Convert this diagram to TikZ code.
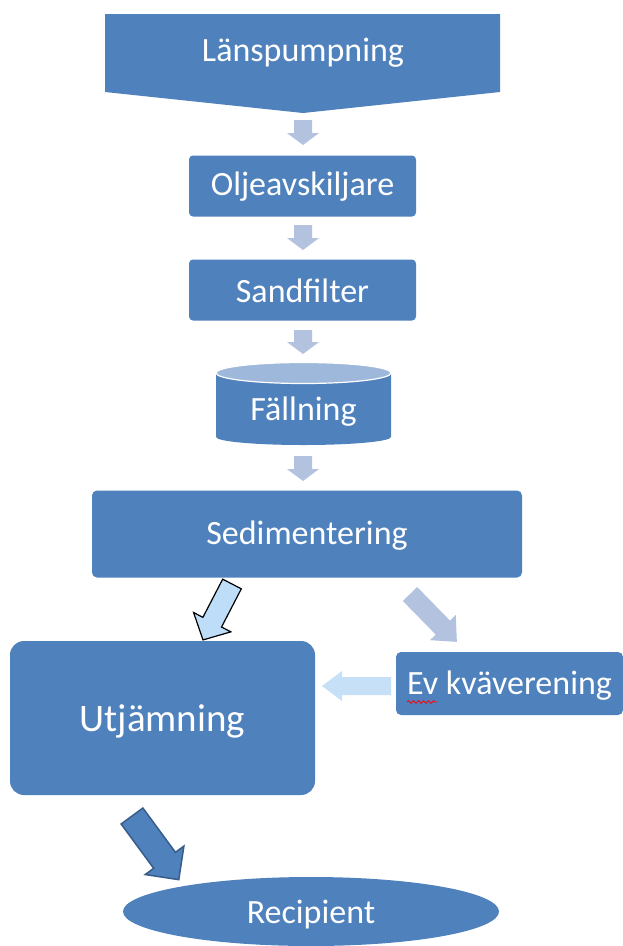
\documentclass[tikz,border=0pt]{standalone}
\usepackage{fontspec}
\setmainfont{Carlito}
\usetikzlibrary{shapes.geometric,decorations.pathmorphing}
\definecolor{mblue}{HTML}{4F81BD}
\definecolor{dblue}{HTML}{385D8A}
\definecolor{greyarr}{HTML}{B3C3DF}
\definecolor{lightarr}{HTML}{C6E1F7}
\definecolor{holarr}{HTML}{BDDDF8}
\definecolor{cyltop}{HTML}{9DB8DB}
\newcommand\blkarrow[7]{%
  \begin{scope}[shift={#1},rotate=#2]
    \path[#7] (0,-#3) -- (#6-#5,-#3) -- (#6-#5,-#4) -- (#6,0) -- (#6-#5,#4) -- (#6-#5,#3) -- (0,#3) -- cycle;
  \end{scope}}
\begin{document}
\begin{tikzpicture}[x=1pt,y=-1pt,
  lbl/.style={text=white,font=\fontsize{34}{40}\selectfont,inner sep=0pt},
  box/.style={fill=mblue,draw=none,rounded corners=4pt,text=white,font=\fontsize{34}{40}\selectfont,inner sep=0pt},
  greyfill/.style={fill=greyarr},
]
\useasboundingbox[fill=white] (0,0) rectangle (623,946);

% Länspumpning
\fill[mblue] (105,14) -- (500,14) -- (500,92) -- (303,113) -- (105,92) -- cycle;
\node[lbl] (lans) at (303,53) {Länspumpning};

\node[box,minimum width=227pt,minimum height=61pt,text depth=0pt] (olje) at (302.5,186) {};
\node[lbl] at (302.5,187) {Oljeavskiljare};
\node[box,minimum width=227pt,minimum height=61pt] (sand) at (302.5,290) {};
\node[lbl] at (302.5,291) {Sandfilter};

% cylinder
\fill[mblue] (216,373) -- (216,437) arc[start angle=180,end angle=360,x radius=87.5pt,y radius=8pt] -- (391,373) -- cycle;
\fill[cyltop,draw=white,line width=1.2pt] (303.5,373) ellipse[x radius=87.5pt,y radius=10.5pt];
\node[lbl] (fall) at (303.5,412) {Fällning};

\node[box,rounded corners=5pt,minimum width=430pt,minimum height=87pt] (sed) at (307,534) {};
\node[lbl] at (307,536) {Sedimentering};
\node[box,rounded corners=14pt,minimum width=305pt,minimum height=154pt] (utj) at (162.5,718) {};
\node[lbl,font=\fontsize{39}{46}\selectfont] at (162.5,721) {Utjämning};
\node[box,rounded corners=5pt,minimum width=227pt,minimum height=63pt] (kva) at (509.5,683.5) {};
\node[lbl] at (509.5,686) {Ev kväverening};
\node[ellipse,fill=mblue,minimum width=376pt,minimum height=69pt,inner sep=0pt] (rec) at (311,911.5) {};
\node[lbl] at (311,915) {Recipient};

% spell-check squiggle
\draw[red,line width=0.8pt,decorate,decoration={snake,segment length=5pt,amplitude=1.3pt}] (407,702) -- (437,702);

% small grey arrows
\blkarrow{(303,120)}{-90}{9}{16}{12}{25}{greyfill}
\blkarrow{(303,225)}{-90}{9}{16}{12}{25}{greyfill}
\blkarrow{(303,330)}{-90}{9}{16}{12}{24}{greyfill}
\blkarrow{(303,456)}{-90}{9}{16}{12}{25}{greyfill}

% arrows from Sedimentering
\blkarrow{(232,584)}{-117.4}{10.5}{21}{20}{63}{fill=holarr,draw=black,line width=1.2pt,line join=miter}
\blkarrow{(410,594)}{-45.6}{10}{18}{20}{67}{greyfill}
\blkarrow{(391,686)}{180}{9}{15}{20}{69}{fill=lightarr}
\blkarrow{(132,816)}{-53.7}{13.5}{24}{24}{79}{fill=mblue,draw=dblue,line width=1.5pt,line join=miter}
\end{tikzpicture}
\end{document}
